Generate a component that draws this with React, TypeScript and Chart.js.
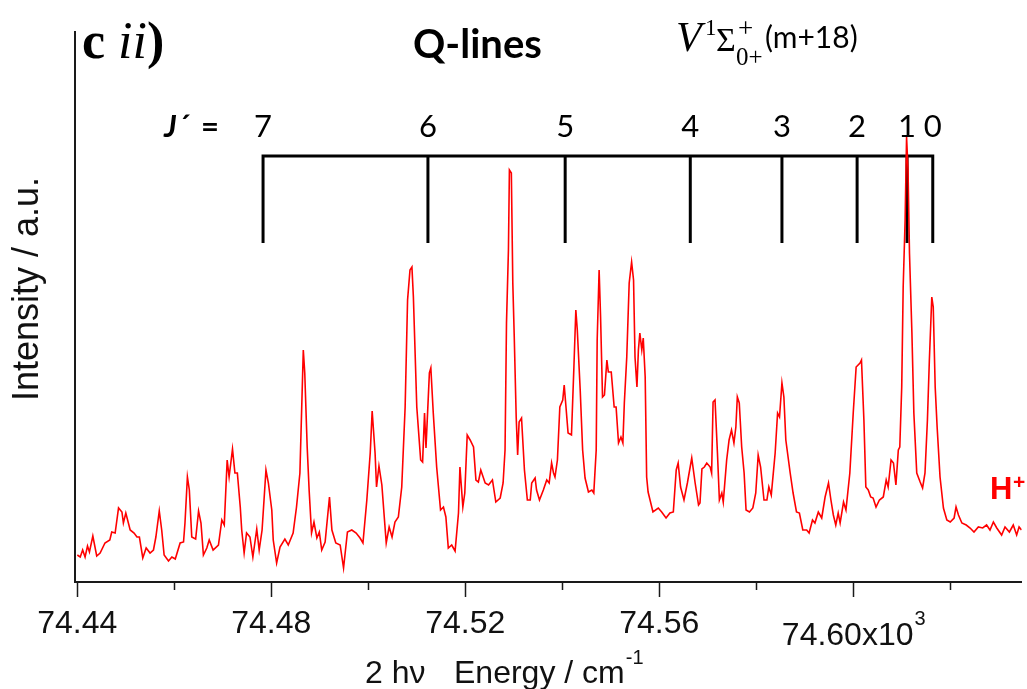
import React, { useEffect, useRef } from 'react';
import { Chart, registerables } from 'chart.js';
Chart.register(...registerables);

// Two-photon energy (cm^-1) and H+ ion intensity (a.u.)
const energy = [
  74440.0, 74440.6, 74441.1, 74441.6, 74442.1, 74442.5, 74443.2, 74444.0, 74444.7, 74445.7,
  74446.7, 74447.1, 74447.8, 74448.5, 74449.2, 74449.5, 74450.0, 74450.9, 74451.7, 74452.3,
  74452.8, 74453.5, 74454.2, 74455.0, 74455.7, 74456.2, 74456.9, 74457.4, 74457.9, 74458.8,
  74459.5, 74460.2, 74461.2, 74461.9, 74462.2, 74462.7, 74463.1, 74463.6, 74464.4, 74465.0,
  74465.5, 74466.0, 74466.7, 74467.2, 74468.0, 74469.1, 74469.8, 74470.3, 74470.9, 74471.3,
  74472.0, 74472.5, 74473.0, 74473.6, 74473.9, 74474.4, 74474.9, 74475.6, 74476.2, 74477.0,
  74477.5, 74478.1, 74478.9, 74479.4, 74480.1,
  74480.4, 74481.1, 74481.8, 74482.8, 74483.5, 74484.5, 74485.2, 74485.9, 74486.6, 74486.9,
  74487.4, 74487.8, 74488.3, 74488.8, 74489.4, 74489.9, 74490.4, 74491.1, 74492.0, 74492.5,
  74493.3, 74494.2, 74494.9, 74495.7, 74496.6, 74497.5, 74498.3, 74498.9, 74499.7, 74500.4,
  74500.8, 74501.4, 74501.7, 74502.2, 74502.8, 74503.7, 74504.3, 74504.9, 74505.5, 74506.2,
  74506.9, 74507.6, 74508.1, 74508.6, 74509.0, 74509.3, 74510.0, 74510.8, 74511.2, 74511.6,
  74511.9, 74512.6, 74512.9, 74513.4, 74514.1, 74514.9, 74515.5, 74516.0, 74516.5, 74517.2,
  74517.9, 74518.6, 74518.9, 74519.5, 74519.9, 74520.4,
  74521.0, 74521.7, 74522.2, 74522.7, 74523.2, 74524.1, 74524.8, 74525.6, 74526.3, 74527.2,
  74527.8, 74528.2, 74528.5, 74528.9, 74529.1, 74529.5, 74529.8, 74530.1, 74530.5, 74530.8,
  74531.1, 74531.6, 74532.2, 74532.8, 74533.4, 74533.7, 74534.4, 74534.7, 74535.3, 74536.1,
  74536.8, 74537.3, 74537.8, 74538.2, 74538.5, 74539.0, 74539.5, 74540.1, 74540.4, 74540.7,
  74541.2, 74541.9, 74542.4, 74542.8, 74543.1, 74543.7, 74544.2, 74544.7, 74545.4, 74546.1,
  74546.5, 74547.0, 74547.2, 74547.6, 74547.9, 74548.3, 74548.7, 74549.2, 74549.5, 74550.1,
  74550.7, 74551.1, 74551.6, 74552.1, 74552.5, 74552.8, 74553.3, 74553.8, 74554.3, 74554.7,
  74555.0, 74555.4, 74555.7, 74556.0, 74556.4, 74556.7, 74557.1, 74557.4, 74557.7, 74558.7,
  74559.8, 74560.5, 74561.4,
  74562.2, 74562.9, 74563.5, 74563.9, 74564.4, 74565.1, 74565.8, 74566.7, 74567.4, 74568.1,
  74568.4, 74568.8, 74569.3, 74569.8, 74570.5, 74570.8, 74571.1, 74571.5, 74572.0, 74572.4,
  74572.9, 74573.2, 74573.9, 74574.4, 74574.9, 74575.4, 74575.8, 74576.1, 74576.5, 74577.0,
  74577.5, 74577.9, 74578.6, 74579.3, 74579.9, 74580.4, 74580.9, 74581.6, 74582.2, 74582.6,
  74583.1, 74583.9, 74584.4, 74584.8, 74585.3, 74585.7, 74586.1, 74587.0, 74587.6, 74588.3,
  74588.9, 74589.6, 74590.4, 74590.9, 74591.6, 74592.1, 74592.8, 74593.5, 74594.2, 74594.9,
  74595.4, 74595.9, 74596.4, 74596.9, 74597.3, 74598.0, 74598.5,
  74599.3, 74600.0, 74600.6, 74601.4, 74601.7, 74602.2, 74602.6, 74603.1, 74603.6, 74604.1,
  74604.7, 74605.4, 74606.2, 74606.8, 74607.2, 74607.8, 74608.3, 74608.8, 74609.3, 74609.6,
  74610.0, 74610.3, 74610.7, 74611.0, 74611.3, 74611.6, 74612.1, 74612.5, 74613.1, 74613.8,
  74614.3, 74614.8, 74615.3, 74615.7, 74616.2, 74616.5, 74616.9, 74617.3, 74617.9, 74618.6,
  74619.3, 74620.0, 74620.8, 74621.2, 74621.7, 74622.4, 74623.3, 74624.1, 74624.9, 74625.8,
  74626.7, 74627.5, 74628.2, 74628.9, 74629.6, 74630.6, 74631.3, 74632.2, 74633.0, 74633.7,
  74634.2, 74634.7,
];

const intensity = [
  27, 25, 32, 25, 36, 30, 46, 26, 29, 39,
  42, 50, 49, 74, 70, 59, 69, 52, 49, 45,
  45, 24, 34, 29, 32, 45, 71, 52, 27, 21,
  25, 23, 39, 40, 59, 105, 92, 45, 43, 71,
  59, 27, 34, 42, 32, 37, 62, 57, 122, 105,
  133, 109, 109, 75, 52, 29, 49, 45, 25, 53,
  32, 52, 112, 99, 72,
  42, 19, 35, 43, 37, 49, 75, 109, 232, 209,
  135, 92, 49, 60, 44, 50, 32, 40, 85, 52,
  39, 37, 14, 50, 52, 49, 44, 39, 82, 129,
  171, 129, 95, 116, 97, 39, 55, 45, 60, 65,
  95, 175, 282, 312, 315, 285, 175, 122, 120, 169,
  134, 209, 214, 169, 115, 72, 75, 65, 34, 37,
  31, 69, 115, 75, 89, 147,
  142, 135, 102, 100, 112, 99, 97, 102, 80, 84,
  99, 132, 259, 332, 412, 409, 299, 245, 165, 127,
  160, 164, 112, 82, 82, 99, 104, 92, 82, 92,
  102, 99, 119, 109, 105, 122, 175, 182, 197, 179,
  149, 147, 215, 272, 252, 192, 132, 104, 90, 92,
  89, 132, 242, 312, 265, 185, 187, 222, 210, 210,
  175, 175, 139, 145, 139, 179, 225, 299, 320, 302,
  225, 195, 232, 249, 232, 244, 205, 105, 90, 70,
  74, 70, 64,
  69, 70, 112, 119, 95, 82, 99, 124, 99, 77,
  79, 113, 115, 119, 115, 109, 180, 182, 129, 82,
  89, 80, 122, 142, 152, 139, 155, 185, 179, 135,
  109, 72, 70, 74, 89, 127, 115, 82, 82, 95,
  87, 129, 169, 165, 199, 185, 142, 109, 89, 70,
  69, 52, 52, 49, 62, 59, 70, 64, 85, 99,
  82, 67, 57, 69, 59, 80, 72,
  109, 169, 215, 219, 222, 162, 95, 92, 85, 84,
  75, 82, 85, 102, 95, 122, 119, 97, 132, 135,
  195, 295, 362, 445, 412, 329, 249, 169, 109, 100,
  94, 109, 162, 222, 285, 275, 195, 155, 105, 74,
  62, 60, 64, 75, 67, 59, 57, 54, 50, 55,
  54, 57, 52, 60, 54, 47, 55, 50, 57, 47,
  55, 52,
];

// Q-line assignment comb (J' values and line positions, cm^-1)
const jLabels = ['7', '6', '5', '4', '3', '2', '1', '0'];
const jPositions = [74478.3, 74512.3, 74540.6, 74566.4, 74585.3, 74600.8, 74611.1, 74616.4];
const combTop = 426;
const combBottom = 339;
const combLabelLevel = 445;

// Axis ticks
const majorTicks = [74440, 74480, 74520, 74560, 74600];
const tickLabels = ['74.44', '74.48', '74.52', '74.56', '74.60x10'];
const lastTickExponent = '3';
const minorTicks = [74460, 74500, 74540, 74580, 74620];

const X_MIN = 74439.46;
const X_MAX = 74634.74;
const Y_MIN = 0;
const Y_MAX = 550;

const SANS = '"Liberation Sans", Arial, sans-serif';
const SERIF = '"Liberation Serif", "Times New Roman", serif';
const HUMAN = 'Lato, "Open Sans", sans-serif';

const annotate = {
  id: 'annotate',
  afterDraw(chart: any) {
    const ctx: CanvasRenderingContext2D = chart.ctx;
    const xs = chart.scales.x;
    const ys = chart.scales.y;
    const base = chart.chartArea.bottom;
    ctx.save();

    // tick marks
    ctx.strokeStyle = '#1a1a1a';
    ctx.lineWidth = 1.5;
    majorTicks.forEach((v) => {
      const px = Math.round(xs.getPixelForValue(v)) + 0.5;
      ctx.beginPath();
      ctx.moveTo(px, base);
      ctx.lineTo(px, base + 15);
      ctx.stroke();
    });
    minorTicks.forEach((v) => {
      const px = Math.round(xs.getPixelForValue(v)) + 0.5;
      ctx.beginPath();
      ctx.moveTo(px, base);
      ctx.lineTo(px, base + 8);
      ctx.stroke();
    });

    // tick labels
    ctx.fillStyle = '#111';
    ctx.textBaseline = 'alphabetic';
    majorTicks.forEach((v, i) => {
      const px = xs.getPixelForValue(v);
      if (i < majorTicks.length - 1) {
        ctx.font = `32px ${SANS}`;
        ctx.textAlign = 'center';
        ctx.fillText(tickLabels[i], px, 633);
      } else {
        ctx.font = `32px ${SANS}`;
        const w1 = ctx.measureText(tickLabels[i]).width;
        ctx.font = `20px ${SANS}`;
        const w2 = ctx.measureText(lastTickExponent).width;
        const start = px - (w1 + w2) / 2;
        ctx.textAlign = 'left';
        ctx.font = `32px ${SANS}`;
        ctx.fillText(tickLabels[i], start, 645);
        ctx.font = `20px ${SANS}`;
        ctx.fillText(lastTickExponent, start + w1 + 1, 625);
      }
    });

    // x title
    ctx.textAlign = 'left';
    ctx.font = `32px ${SANS}`;
    ctx.fillText('2 h\u03BD', 365, 683);
    ctx.fillText('Energy / cm', 454, 683);
    const wE = ctx.measureText('Energy / cm').width;
    ctx.font = `20px ${SANS}`;
    ctx.fillText('-1', 454 + wE + 1, 664);

    // y title
    ctx.save();
    ctx.translate(38, 289);
    ctx.rotate(-Math.PI / 2);
    ctx.textAlign = 'center';
    ctx.font = `36px ${SANS}`;
    ctx.fillText('Intensity / a.u.', 0, 0);
    ctx.restore();

    // J' labels
    ctx.fillStyle = '#000';
    ctx.font = `31px ${HUMAN}`;
    ctx.textAlign = 'center';
    const labelY = ys.getPixelForValue(combLabelLevel);
    jLabels.forEach((lab, i) => {
      ctx.fillText(lab, xs.getPixelForValue(jPositions[i]), labelY);
    });
    ctx.textAlign = 'left';
    ctx.font = `italic bold 31px ${HUMAN}`;
    ctx.fillText('J\u00B4', 164, labelY);
    ctx.font = `bold 31px ${HUMAN}`;
    ctx.fillText('=', 201, labelY);

    // panel tag "c ii)"
    ctx.font = `bold 52px ${SERIF}`;
    ctx.fillText('c', 82, 58);
    let cx = 82 + ctx.measureText('c ').width;
    ctx.font = `italic 52px ${SERIF}`;
    ctx.fillText('ii', cx, 58);
    cx += ctx.measureText('ii').width;
    ctx.font = `bold 52px ${SERIF}`;
    ctx.fillText(')', cx, 58);

    // Q-lines
    ctx.font = `bold 40px ${HUMAN}`;
    ctx.fillText('Q-lines', 413, 58);

    // state label V 1Σ+0+ (m+18)
    ctx.font = `italic 42px ${SERIF}`;
    ctx.fillText('V', 676, 51);
    ctx.font = `23px ${SERIF}`;
    ctx.fillText('1', 705, 35);
    ctx.font = `34px ${SERIF}`;
    ctx.fillText('\u03A3', 716, 51);
    ctx.font = `27px ${SERIF}`;
    ctx.fillText('+', 738, 37);
    ctx.font = `25px ${SERIF}`;
    ctx.fillText('0+', 736, 65);
    ctx.font = `30px ${HUMAN}`;
    ctx.fillText('(m+18)', 765, 48);

    // H+ tag
    ctx.fillStyle = '#ff0000';
    ctx.font = `bold 31px ${SANS}`;
    ctx.fillText('H', 990, 499);
    ctx.font = `bold 21px ${SANS}`;
    ctx.fillText('+', 1013, 489);

    ctx.restore();
  },
};

export default function App() {
  const ref = useRef<HTMLCanvasElement | null>(null);

  useEffect(() => {
    if (!ref.current) return;
    const spectrum = energy.map((x, i) => ({ x, y: intensity[i] }));
    const comb: { x: number; y: number | null }[] = [];
    const last = jPositions.length - 1;
    comb.push(
      { x: jPositions[0], y: combBottom },
      { x: jPositions[0], y: combTop },
      { x: jPositions[last], y: combTop },
      { x: jPositions[last], y: combBottom },
      { x: jPositions[last], y: null },
    );
    for (let i = 1; i < last; i++) {
      comb.push({ x: jPositions[i], y: combTop }, { x: jPositions[i], y: combBottom }, { x: jPositions[i], y: null });
    }

    const chart = new Chart(ref.current, {
      type: 'line',
      data: {
        datasets: [
          {
            label: 'H+',
            data: spectrum,
            borderColor: '#ff0000',
            borderWidth: 1.6,
            pointRadius: 0,
            tension: 0,
            fill: false,
          },
          {
            label: 'comb',
            data: comb,
            borderColor: '#000000',
            borderWidth: 3,
            pointRadius: 0,
            tension: 0,
            fill: false,
            spanGaps: false,
            borderJoinStyle: 'miter',
          },
        ],
      },
      options: {
        animation: false,
        responsive: false,
        maintainAspectRatio: false,
        devicePixelRatio: 1,
        layout: { padding: { left: 0, top: 32, right: 5.3, bottom: 0 } },
        plugins: { legend: { display: false }, tooltip: { enabled: false } },
        scales: {
          x: {
            type: 'linear',
            min: X_MIN,
            max: X_MAX,
            ticks: { display: false },
            grid: { display: false, drawTicks: false },
            border: { display: true, color: '#1a1a1a', width: 2 },
            afterFit: (s: any) => {
              s.height = 107;
            },
          },
          y: {
            type: 'linear',
            min: Y_MIN,
            max: Y_MAX,
            ticks: { display: false },
            grid: { display: false, drawTicks: false },
            border: { display: true, color: '#1a1a1a', width: 2 },
            afterFit: (s: any) => {
              s.width = 74.7;
            },
          },
        },
      },
      plugins: [annotate],
    } as any);
    return () => chart.destroy();
  }, []);

  return (
    <div style={{ position: 'fixed', left: 0, top: 0, width: 1027, height: 689, background: '#fff' }}>
      <canvas ref={ref} width={1027} height={689} style={{ display: 'block' }} />
    </div>
  );
}
